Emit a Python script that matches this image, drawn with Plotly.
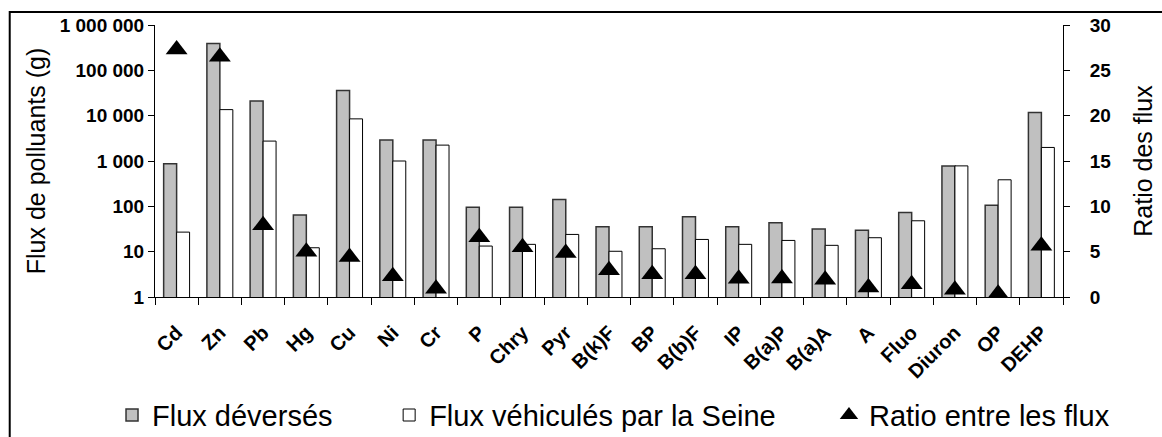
import plotly.graph_objects as go

categories = ["Cd", "Zn", "Pb", "Hg", "Cu", "Ni", "Cr", "P", "Chry", "Pyr", "B(k)F",
              "BP", "B(b)F", "IP", "B(a)P", "B(a)A", "A", "Fluo", "Diuron", "OP", "DEHP"]
flux_deverses = [870, 390000, 21000, 64, 36000, 2900, 2900, 96, 96, 142, 35.5,
                 35.5, 59, 35.5, 43.5, 31.5, 29.5, 73, 780, 106, 11700]
flux_seine = [27, 13600, 2750, 12.2, 8500, 1000, 2240, 13.3, 14.5, 24, 10.2,
              11.6, 18.6, 14.5, 17.7, 13.8, 20.3, 48, 780, 385, 1990]
ratio = [27.3, 26.5, 7.9, 5.0, 4.4, 2.3, 0.9, 6.6, 5.5, 4.85, 2.95,
         2.5, 2.5, 2.0, 2.05, 1.9, 1.05, 1.4, 0.8, 0.35, 5.65]

log_tickvals = [1, 10, 100, 1000, 10000, 100000, 1000000]
log_ticktext = ["1", "10", "100", "1 000", "10 000", "100 000", "1 000 000"]
ratio_tickvals = [0, 5, 10, 15, 20, 25, 30]

FONT = "Arial, Liberation Sans, sans-serif"

fig = go.Figure()
fig.add_trace(go.Bar(
    x=categories, y=flux_deverses, name="Flux déversés",
    marker=dict(color="#c0c0c0", line=dict(color="#333333", width=1.5)),
    legend="legend",
))
fig.add_trace(go.Bar(
    x=categories, y=flux_seine, name="Flux véhiculés par la Seine",
    marker=dict(color="#ffffff", line=dict(color="#000000", width=1)),
    legend="legend2",
))
fig.add_trace(go.Scatter(
    x=categories, y=ratio, name="Ratio entre les flux", mode="markers",
    marker=dict(symbol="triangle-up", size=19, color="#000000"),
    yaxis="y2", legend="legend3",
))

legend_common = dict(orientation="h", yanchor="middle", y=0.05, xanchor="left",
                     xref="container", yref="container",
                     font=dict(family=FONT, size=29, color="#000"),
                     bgcolor="rgba(0,0,0,0)", borderwidth=0, visible=True)

fig.update_layout(
    width=1162, height=437,
    margin=dict(l=155, r=99, t=25, b=140, autoexpand=False),
    paper_bgcolor="#ffffff", plot_bgcolor="#ffffff",
    font=dict(family=FONT, color="#000"),
    showlegend=True,
    barmode="group", bargap=0.4, bargroupgap=0,
    legend=dict(x=0.0964, **legend_common),
    legend2=dict(x=0.3349, **legend_common),
    legend3=dict(x=0.7134, **legend_common),
    xaxis=dict(
        type="category", tickangle=-45, range=[-0.5, len(categories) - 0.5],
        tickfont=dict(family=FONT, size=20, color="#000", weight="bold"),
        ticks="outside", tickson="boundaries", ticklen=7, tickcolor="#000",
        ticklabelstandoff=15, automargin=False,
        showline=True, linecolor="#000", linewidth=1, showgrid=False,
    ),
    yaxis=dict(
        type="log", range=[0, 6], tickvals=log_tickvals, ticktext=log_ticktext,
        tickfont=dict(family=FONT, size=19, color="#000", weight="bold"),
        ticks="outside", ticklen=6, tickcolor="#000", automargin=False,
        showline=True, linecolor="#000", linewidth=1, showgrid=False, zeroline=False,
        title=dict(text="Flux de polluants (g)", font=dict(family=FONT, size=25, color="#000"),
                   standoff=6),
    ),
    yaxis2=dict(
        overlaying="y", side="right", range=[0, 30], tickvals=ratio_tickvals,
        tickfont=dict(family=FONT, size=19, color="#000", weight="bold"),
        ticks="outside", ticklen=6, tickcolor="#000", automargin=False,
        ticklabelstandoff=16,
        showline=True, linecolor="#000", linewidth=1, showgrid=False, zeroline=False,
        title=dict(text="Ratio des flux", font=dict(family=FONT, size=25, color="#000"),
                   standoff=24),
    ),
    shapes=[dict(type="rect", xref="paper", yref="paper",
                 x0=-0.160, x1=1.2, y0=-0.6, y1=1.0478,
                 line=dict(color="#000", width=2), fillcolor="rgba(0,0,0,0)", layer="above")],
)

fig.write_html("out.html",
               config={"displayModeBar": False},
               post_script="document.body.style.margin='0';document.body.style.padding='0';")
